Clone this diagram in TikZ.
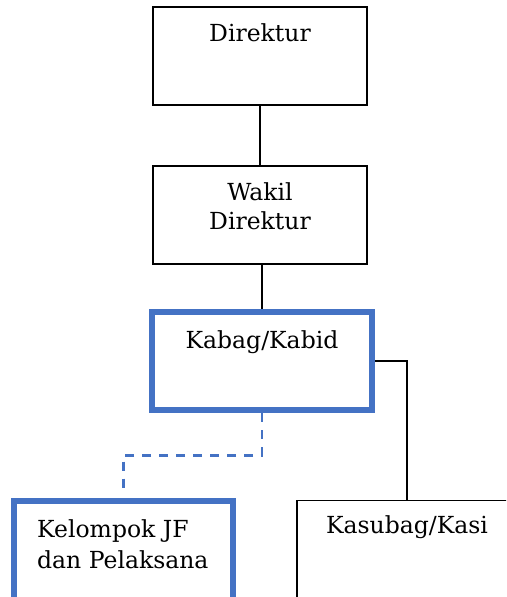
\documentclass[tikz,border=0pt]{standalone}
\usepackage{fontspec}
\setmainfont{DejaVu Serif}
\usetikzlibrary{calc}
\definecolor{orgblue}{HTML}{4472C4}
\begin{document}
\begin{tikzpicture}[x=1pt,y=-1pt,
  plainbox/.style={draw=black,line width=1.7pt,fill=white,minimum width=214pt,minimum height=98pt,inner sep=0pt},
  bluebox/.style={draw=orgblue,line width=6.4pt,fill=white,minimum width=220pt,minimum height=98pt,inner sep=0pt},
  lbl/.style={inner sep=0pt,font=\fontsize{23.5}{30}\selectfont},
  solidlink/.style={draw=black,line width=1.7pt},
  dashlink/.style={draw=orgblue,line width=2.8pt,dash pattern=on 9pt off 8pt}]
\clip (0,0) rectangle (506,597);
\fill[white] (0,0) rectangle (506,597);

% boxes
\node[plainbox] (dir) at (260,56) {};
\node[plainbox] (wakil) at (260,215) {};
\node[bluebox] (kabag) at (262,361) {};
\node[bluebox,minimum width=219pt,minimum height=120pt] (kelompok) at (123.5,561) {};
\node[plainbox,minimum width=220pt,minimum height=120pt] (kasubag) at (407,560.5) {};

% labels
\node[lbl,anchor=base] (tdir) at (260,41) {Direktur};
\node[lbl,anchor=base] (twakA) at (260,200) {Wakil};
\node[lbl,anchor=base] (twakB) at (260,229) {Direktur};
\node[lbl,anchor=base] (tkabag) at (262,348) {Kabag/Kabid};
\node[lbl,anchor=base] (tkasubag) at (407,533) {Kasubag/Kasi};
\node[lbl,anchor=base west] (tkelA) at (37,537) {Kelompok JF};
\node[lbl,anchor=base west] (tkelB) at (37,568) {dan Pelaksana};

% connectors
\draw[solidlink] (dir.south) -- (wakil.north);
\draw[solidlink] (kabag.north) -- (kabag.north |- wakil.south);
\draw[solidlink] (kabag.east) -| (kasubag.north);
\draw[dashlink] (kabag.south) -- ++(0,42) -| ($(kelompok.north)+(0,-7)$);
\end{tikzpicture}
\end{document}
